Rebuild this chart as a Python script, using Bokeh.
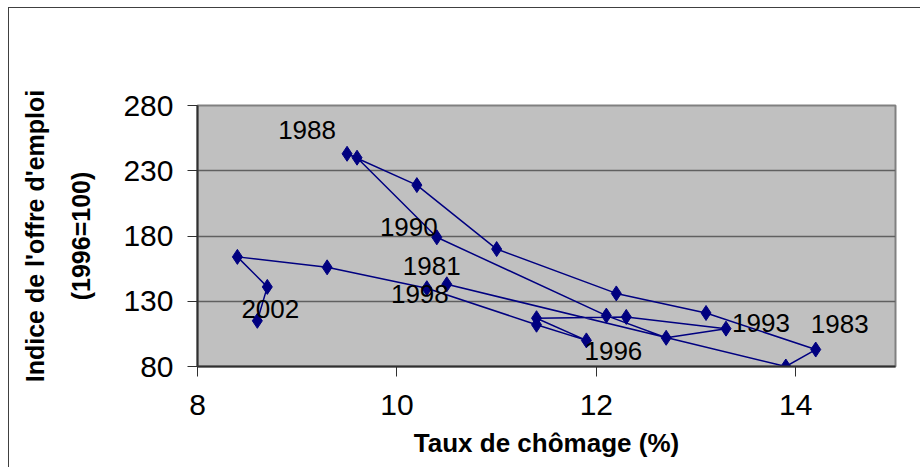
from bokeh.plotting import figure
from bokeh.models import ColumnDataSource, FixedTicker
from bokeh.core.properties import value
from bokeh.embed import file_html
from bokeh.resources import INLINE

# ---- data ----
years = [1981, 1982, 1983, 1984, 1985, 1986, 1987, 1988, 1989, 1990, 1991,
         1992, 1993, 1994, 1995, 1996, 1997, 1998, 1999, 2000, 2001, 2002]
unemployment = [10.5, 13.9, 14.2, 13.1, 12.2, 11.0, 10.2, 9.5, 9.6, 10.4, 12.1,
                12.7, 13.3, 12.3, 11.4, 11.9, 11.4, 10.3, 9.3, 8.4, 8.7, 8.6]
job_index = [143, 80, 93, 121, 136, 170, 219, 243, 240, 179, 119,
             102, 109, 118, 117, 100, 112, 140, 156, 164, 141, 115]

labeled_years = [1981, 1983, 1988, 1990, 1993, 1996, 1998, 2002]
x_ticks = [8, 10, 12, 14]
y_ticks = [80, 130, 180, 230, 280]

# label placement (style, in screen pixels)
label_dx = [-15, 24, -40, -28, 35, 27, -7, 13]
label_dy = [-18, -26, -24, -10, -6, 11, 6, -12]

FONT = "Liberation Sans"
NAVY = "#000080"

p = figure(width=912, height=460, output_backend="svg", toolbar_location=None,
           x_range=(8, 15), y_range=(80, 280),
           min_border_left=188, min_border_right=26,
           min_border_top=97, min_border_bottom=102)

p.background_fill_color = "#C0C0C0"
p.border_fill_color = "white"
p.outline_line_color = "#808080"
p.outline_line_width = 2

p.xgrid.visible = False
p.ygrid.grid_line_color = "#606060"
p.ygrid.grid_line_width = 1.5

for ax in (p.xaxis[0], p.yaxis[0]):
    ax.axis_line_color = "#303030"
    ax.axis_line_width = 2
    ax.major_tick_line_color = "#303030"
    ax.major_tick_line_width = 1
    ax.major_tick_in = 0
    ax.major_tick_out = 10
    ax.minor_tick_line_color = None
    ax.major_label_text_font = FONT
    ax.major_label_text_font_size = "30px"
    ax.major_label_text_color = "black"
    ax.axis_label_text_font = FONT
    ax.axis_label_text_font_style = "bold"
    ax.axis_label_text_color = "black"

p.xaxis.ticker = FixedTicker(ticks=x_ticks)
p.yaxis.ticker = FixedTicker(ticks=y_ticks)
p.xaxis.major_label_standoff = 18
p.yaxis.major_label_standoff = 14

p.xaxis.axis_label = "Taux de chômage (%)"
p.xaxis.axis_label_text_font_size = "26px"
p.xaxis.axis_label_standoff = 10

p.yaxis.axis_label = "Indice de l'offre d'emploi\n(1996=100)"
p.yaxis.axis_label_text_font_size = "25px"
p.yaxis.axis_label_text_line_height = 1.65
p.yaxis.axis_label_standoff = 25

src = ColumnDataSource(dict(x=unemployment, y=job_index, year=years))
p.line("x", "y", source=src, line_color=NAVY, line_width=1.5)
p.scatter("x", "y", source=src, marker="diamond", size=15,
          fill_color=NAVY, line_color=NAVY)

lab_x = [unemployment[years.index(y)] for y in labeled_years]
lab_y = [job_index[years.index(y)] for y in labeled_years]
lsrc = ColumnDataSource(dict(x=lab_x, y=lab_y, t=[str(y) for y in labeled_years],
                             dx=label_dx, dy=label_dy))
p.text("x", "y", text="t", source=lsrc, x_offset="dx", y_offset="dy",
       text_align="center", text_baseline="middle",
       text_font=value(FONT), text_font_size="26px", text_color="black")

p.styles = {"margin-left": "8px", "margin-top": "7px",
            "border-left": "1px solid #404040", "border-top": "1px solid #404040"}

open("out.html", "w").write(file_html(p, INLINE))
